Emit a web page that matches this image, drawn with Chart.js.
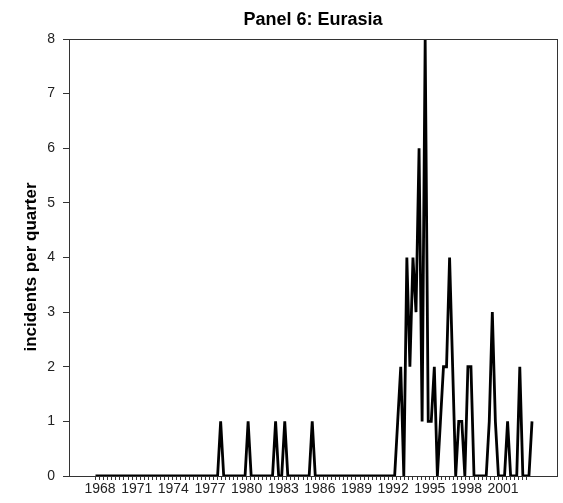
<!DOCTYPE html>
<html>
<head>
<meta charset="utf-8">
<script src="https://cdn.jsdelivr.net/npm/chart.js@4"></script>
<style>
  html, body { margin: 0; padding: 0; background: #fff; }
  #wrap { width: 563px; height: 503px; }
</style>
</head>
<body>
<div id="wrap"><canvas id="panel" width="563" height="503"></canvas></div>
<script>
// ===================================
// Data (incidents per quarter, 1968 Q1 .. 2003 Q4)
// ===================================
const startYear = 1968;
const incidents = [
  0, 0, 0, 0, 0, 0, 0, 0, 0, 0, 0, 0, 0, 0, 0, 0, 0, 0, 0, 0, // 1968-1972
  0, 0, 0, 0, 0, 0, 0, 0, 0, 0, 0, 0, 0, 0, 0, 0, 0, 0, 0, 0, // 1973-1977
  0, 1, 0, 0, // 1978
  0, 0, 0, 0, // 1979
  0, 0, 1, 0, // 1980
  0, 0, 0, 0, // 1981
  0, 0, 0, 1, // 1982
  0, 0, 1, 0, // 1983
  0, 0, 0, 0, // 1984
  0, 0, 0, 1, // 1985
  0, 0, 0, 0, 0, 0, 0, 0, 0, 0, 0, 0, // 1986-1988
  0, 0, 0, 0, 0, 0, 0, 0, 0, 0, 0, 0, // 1989-1991
  0, 0, 0, 1, // 1992
  2, 0, 4, 2, // 1993
  4, 3, 6, 1, // 1994
  8, 1, 1, 2, // 1995
  0, 1, 2, 2, // 1996
  4, 2, 0, 1, // 1997
  1, 0, 2, 2, // 1998
  0, 0, 0, 0, // 1999
  0, 1, 3, 1, // 2000
  0, 0, 0, 1, // 2001
  0, 0, 0, 2, // 2002
  0, 0, 0, 1, // 2003
];
const labelYears = [1968, 1971, 1974, 1977, 1980, 1983, 1986, 1989, 1992, 1995, 1998, 2001];
const yTicks = [0, 1, 2, 3, 4, 5, 6, 7, 8];

// ===================================
// Frame plugin (box round the plot)
// ===================================
const framePlugin = {
  id: "frame",
  afterDraw(chart) {
    const { ctx, chartArea } = chart;
    ctx.save();
    ctx.strokeStyle = "#333";
    ctx.lineWidth = 1;
    ctx.strokeRect(
      Math.round(chartArea.left) + 0.5,
      Math.round(chartArea.top) + 0.5,
      Math.round(chartArea.right - chartArea.left),
      Math.round(chartArea.bottom - chartArea.top)
    );
    ctx.restore();
  },
};

// ===================================
// Chart
// ===================================
const FONT = "Liberation Sans, Arial, sans-serif";
const points = incidents.map((v, i) => ({ x: startYear + i / 4, y: v }));
const labelPos = labelYears.map((y) => y + 0.375);

new Chart(document.getElementById("panel").getContext("2d"), {
  type: "line",
  data: {
    datasets: [
      {
        data: points,
        borderColor: "#000",
        borderWidth: 2.8,
        pointRadius: 0,
        tension: 0,
        fill: false,
      },
    ],
  },
  options: {
    responsive: false,
    animation: false,
    layout: { padding: { left: 0, right: 6, top: 0, bottom: 0 } },
    plugins: {
      legend: { display: false },
      tooltip: { enabled: false },
      title: {
        display: true,
        fullSize: false,
        text: "Panel 6: Eurasia",
        color: "#000",
        font: { family: FONT, size: 18, weight: "bold", lineHeight: 1.2 },
        padding: { top: 9, bottom: 8.4 },
      },
    },
    scales: {
      x: {
        type: "linear",
        min: 1965.83,
        max: 2005.797,
        afterFit(scale) {
          scale.height = 27;
        },
        afterBuildTicks(scale) {
          const ticks = [];
          for (let k = 0; k <= 106; k++) ticks.push({ value: startYear + k / 3 });
          labelPos.forEach((v) => ticks.push({ value: v, label: true }));
          ticks.sort((a, b) => a.value - b.value);
          scale.ticks = ticks;
        },
        grid: {
          drawOnChartArea: false,
          drawTicks: true,
          tickLength: 4,
          color: (ctx) => (ctx.tick && ctx.tick.label ? "rgba(0,0,0,0)" : "#333"),
        },
        border: { display: true, color: "#333", width: 1 },
        ticks: {
          autoSkip: false,
          maxRotation: 0,
          padding: 1,
          color: "#222",
          font: { family: FONT, size: 14 },
          callback: function (value, index, ticks) {
            const t = ticks[index];
            if (!t.label) return "";
            return String(Math.round(value - 0.375));
          },
        },
      },
      y: {
        min: 0,
        max: 8,
        afterFit(scale) {
          scale.width = 69;
        },
        afterBuildTicks(scale) {
          scale.ticks = yTicks.map((v) => ({ value: v }));
        },
        grid: {
          drawOnChartArea: false,
          drawTicks: true,
          tickLength: 6,
          color: "#333",
        },
        border: { display: true, color: "#333", width: 1 },
        ticks: {
          padding: 8,
          color: "#222",
          font: { family: FONT, size: 14 },
        },
        title: {
          display: true,
          // trailing spaces push the centred title a little lower, as in the source
          text: "incidents per quarter\u00a0\u00a0\u00a0\u00a0",
          color: "#000",
          font: { family: FONT, size: 17, weight: "bold", lineHeight: 1.2 },
          padding: { top: 21, bottom: 0 },
        },
      },
    },
  },
  plugins: [framePlugin],
});
</script>
</body>
</html>
